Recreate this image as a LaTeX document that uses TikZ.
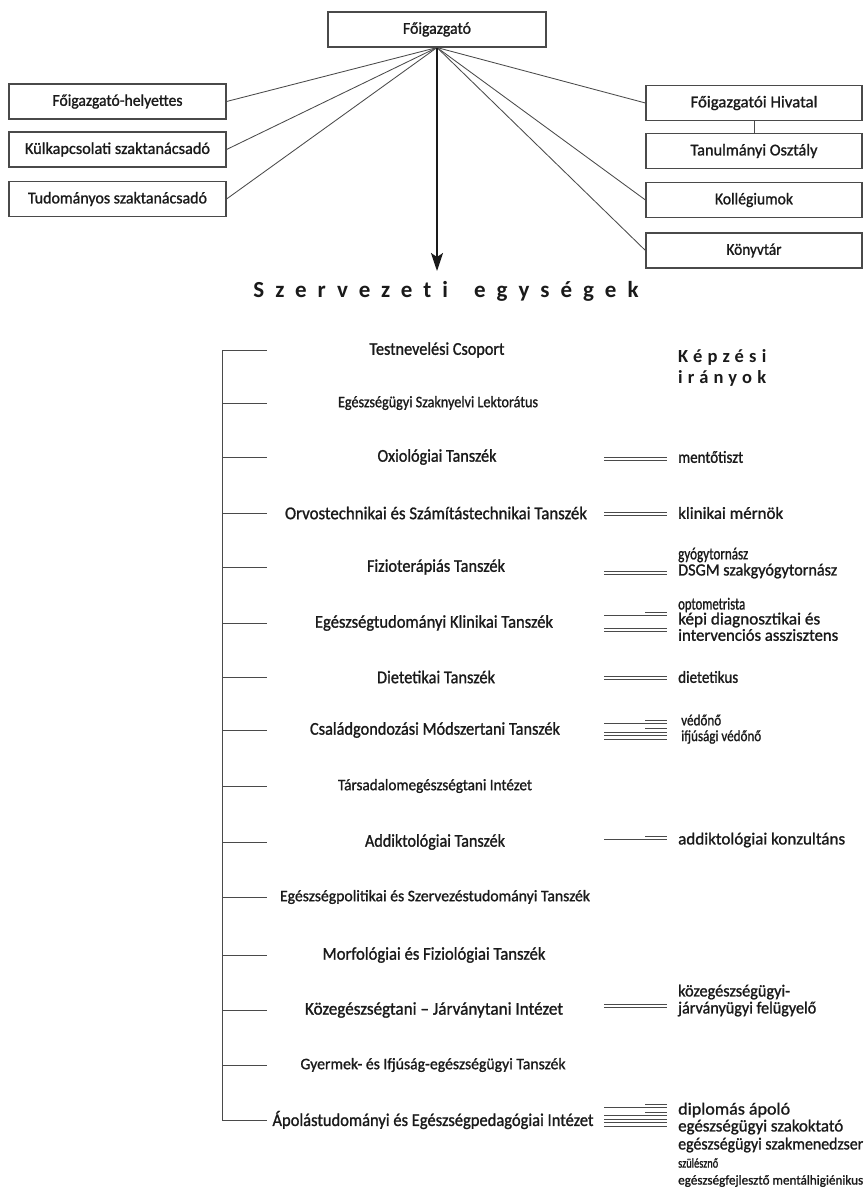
\documentclass[tikz,border=0pt]{standalone}
\usepackage{fontspec}
\setmainfont{Carlito}
\newfontfamily\bodyfont[FakeBold=1.2]{Carlito}
\newfontfamily\headfont[LetterSpace=48,Ligatures=NoCommon]{Carlito}
\newfontfamily\kepfont[LetterSpace=28,Ligatures=NoCommon]{Carlito}
\usetikzlibrary{arrows.meta}
\newcommand\fw[2]{\resizebox{#1pt}{\height}{#2}}
\newcommand\conline[4]{\coordinate (#1a) at (#2,#4); \coordinate (#1b) at (#3,#4); \draw[rline] (#1a) -- (#1b);}
\definecolor{ink}{HTML}{1A1A1A}
\definecolor{linec}{HTML}{4A4A4A}
\tikzset{
  box/.style={draw=linec, line width=1.1pt, minimum height=35pt, inner sep=0pt, text=ink, font=\bodyfont\fontsize{16.5}{19}\selectfont},
  fan/.style={draw=linec, line width=0.85pt},
  arrowline/.style={draw=ink, line width=2pt, -{Stealth[length=18pt,width=12pt,inset=4pt]}},
  head/.style={inner sep=0pt, text=ink, font=\headfont\bfseries\fontsize{23}{26}\selectfont},
  kep/.style={inner sep=0pt, text=ink, anchor=west, font=\kepfont\bfseries\fontsize{18.5}{21}\selectfont},
  unit/.style={inner sep=0pt, text=ink, font=\bodyfont\fontsize{18}{21}\selectfont},
  tightunit/.style={inner sep=0pt, text=ink, font=\bodyfont\fontsize{16}{19}\selectfont},
  lbl/.style={inner sep=0pt, anchor=west, text=ink, font=\bodyfont\fontsize{17}{20}\selectfont},
  midlbl/.style={inner sep=0pt, anchor=west, text=ink, font=\bodyfont\fontsize{15.5}{17}\selectfont},
  smalllbl/.style={inner sep=0pt, anchor=west, text=ink, font=\bodyfont\fontsize{13.5}{16}\selectfont},
  tree/.style={draw=linec, line width=0.9pt},
  rline/.style={draw=linec, line width=0.75pt},
}
\begin{document}
\begin{tikzpicture}[x=1pt,y=-1pt]
\useasboundingbox (0,0) rectangle (865,1194);
\fill[white] (0,0) rectangle (865,1194);

% top boxes
\node[box, minimum width=218pt] (fo) at (437,29.5) {\fw{68}{Főigazgató}};
\node[box, minimum width=217pt] (lh) at (117.5,101.5) {\fw{130}{Főigazgató-helyettes}};
\node[box, minimum width=217pt] (lk) at (117.5,149.5) {\fw{185}{Külkapcsolati szaktanácsadó}};
\node[box, minimum width=217pt] (lt) at (117.5,199) {\fw{179}{Tudományos szaktanácsadó}};
\node[box, minimum width=216pt] (rh) at (754,103) {\fw{127}{Főigazgatói Hivatal}};
\node[box, minimum width=216pt] (rt) at (754,151) {\fw{127}{Tanulmányi Osztály}};
\node[box, minimum width=216pt] (rk) at (754,200) {\fw{78}{Kollégiumok}};
\node[box, minimum width=216pt] (rv) at (754,250.5) {\fw{55}{Könyvtár}};

\draw[fan] (fo.south) -- (lh.east);
\draw[fan] (fo.south) -- (lk.east);
\draw[fan] (fo.south) -- (lt.east);
\draw[fan] (fo.south) -- (rh.west);
\draw[fan] (fo.south) -- (rk.west);
\draw[fan] (fo.south) -- (rv.west);
\draw[fan] (rh.south) -- (rt.north);

\coordinate (tip) at (437,271);
\draw[arrowline] (fo.south) -- (tip);

\node[head] (sz) at (446,291) {Szervezeti\hspace{26pt}egységek};

\node[kep] (kep1) at (678,357) {Képzési};
\node[kep] (kep2) at (678,378) {irányok};

% tree
\foreach \i/\y in {1/350,2/403,3/457,4/513,5/567,6/623,7/677,8/730,9/786,10/842,11/897,12/955,13/1010,14/1065,15/1120}{
  \coordinate (k\i) at (222,\y);
  \coordinate (e\i) at (267,\y);
}
\draw[tree] (k1) -- (k15);
\foreach \i in {1,...,15} \draw[tree] (k\i) -- (e\i);

\node[unit] (u1) at (437,350) {\fw{135}{Testnevelési Csoport}};
\node[tightunit] (u2) at (438,403) {\fw{200}{Egészségügyi Szaknyelvi Lektorátus}};
\node[unit] (u3) at (437,457) {\fw{119}{Oxiológiai Tanszék}};
\node[unit] (u4) at (436,513) {\fw{302}{Orvostechnikai és Számítástechnikai Tanszék}};
\node[unit] (u5) at (436,567) {\fw{138}{Fizioterápiás Tanszék}};
\node[unit] (u6) at (434,623) {\fw{238}{Egészségtudományi Klinikai Tanszék}};
\node[unit] (u7) at (436,677) {\fw{118}{Dietetikai Tanszék}};
\node[unit] (u8) at (435,730) {\fw{250}{Családgondozási Módszertani Tanszék}};
\node[tightunit] (u9) at (435,786) {\fw{194}{Társadalomegészségtani Intézet}};
\node[unit] (u10) at (435,842) {\fw{140}{Addiktológiai Tanszék}};
\node[tightunit] (u11) at (435,897) {\fw{310}{Egészségpolitikai és Szervezéstudományi Tanszék}};
\node[unit] (u12) at (434,955) {\fw{223}{Morfológiai és Fiziológiai Tanszék}};
\node[unit] (u13) at (434,1010) {\fw{258}{Közegészségtani – Járványtani Intézet}};
\node[tightunit] (u14) at (433,1065) {\fw{265}{Gyermek- és Ifjúság-egészségügyi Tanszék}};
\node[unit] (u15) at (433,1120) {\fw{321}{Ápolástudományi és Egészségpedagógiai Intézet}};

% connectors to training directions
\conline{c3x}{604}{667}{457.6}  \conline{c3y}{604}{667}{460.4}
\conline{c4x}{604}{667}{512.6}  \conline{c4y}{604}{667}{515.4}
\conline{c5x}{604}{667}{571.6}  \conline{c5y}{604}{667}{574.4}
\conline{c6s}{645}{667}{612.5}  \conline{c6x}{604}{667}{615.5}
\conline{c6y}{604}{667}{628.6}  \conline{c6z}{604}{667}{631.4}
\conline{c7x}{604}{667}{676.6}  \conline{c7y}{604}{667}{679.4}
\conline{c8s}{645}{667}{720}    \conline{c8x}{604}{667}{723}
\conline{c8t}{645}{667}{728}    \conline{c8y}{604}{667}{732}
\conline{c8z}{604}{667}{735.5}  \conline{c8w}{604}{667}{739}
\conline{c10s}{645}{667}{836.5} \conline{c10x}{604}{667}{839.5}
\conline{c13x}{604}{667}{1004.6} \conline{c13y}{604}{667}{1007.4}
\conline{c15s}{645}{667}{1104}  \conline{c15x}{604}{667}{1107}
\conline{c15t}{645}{667}{1112}  \conline{c15y}{604}{667}{1115.5}
\conline{c15z}{604}{667}{1119}  \conline{c15w}{604}{667}{1122.5}
\conline{c15v}{604}{667}{1126}

% training labels
\node[lbl] (l3) at (678,457) {\fw{65}{mentőtiszt}};
\node[lbl] (l4) at (678,513) {\fw{105}{klinikai mérnök}};
\node[lbl] (l5a) at (678,555) {\fw{70}{gyógytornász}};
\node[lbl] (l5b) at (678,571) {\fw{159}{DSGM szakgyógytornász}};
\node[lbl] (l6a) at (678,605) {\fw{67}{optometrista}};
\node[lbl] (l6b) at (678,620) {\fw{142}{képi diagnosztikai és}};
\node[lbl] (l6c) at (678,635) {\fw{160}{intervenciós asszisztens}};
\node[lbl] (l7) at (678,677) {\fw{60}{dietetikus}};
\node[midlbl] (l8a) at (681,720) {\fw{40}{védőnő}};
\node[midlbl] (l8b) at (681,737) {\fw{80}{ifjúsági védőnő}};
\node[lbl] (l10) at (678,840) {\fw{167}{addiktológiai konzultáns}};
\node[lbl] (l13a) at (678,992) {\fw{112}{közegészségügyi-}};
\node[lbl] (l13b) at (678,1009) {\fw{138}{járványügyi felügyelő}};
\node[lbl] (l15a) at (678,1110) {\fw{112}{diplomás ápoló}};
\node[lbl] (l15b) at (678,1127) {\fw{165}{egészségügyi szakoktató}};
\node[lbl] (l15c) at (678,1145) {\fw{185}{egészségügyi szakmenedzser}};
\node[smalllbl] (l15d) at (678,1163) {\fw{40}{szülésznő}};
\node[smalllbl] (l15e) at (678,1181) {\fw{185}{egészségfejlesztő mentálhigiénikus}};
\end{tikzpicture}
\end{document}
